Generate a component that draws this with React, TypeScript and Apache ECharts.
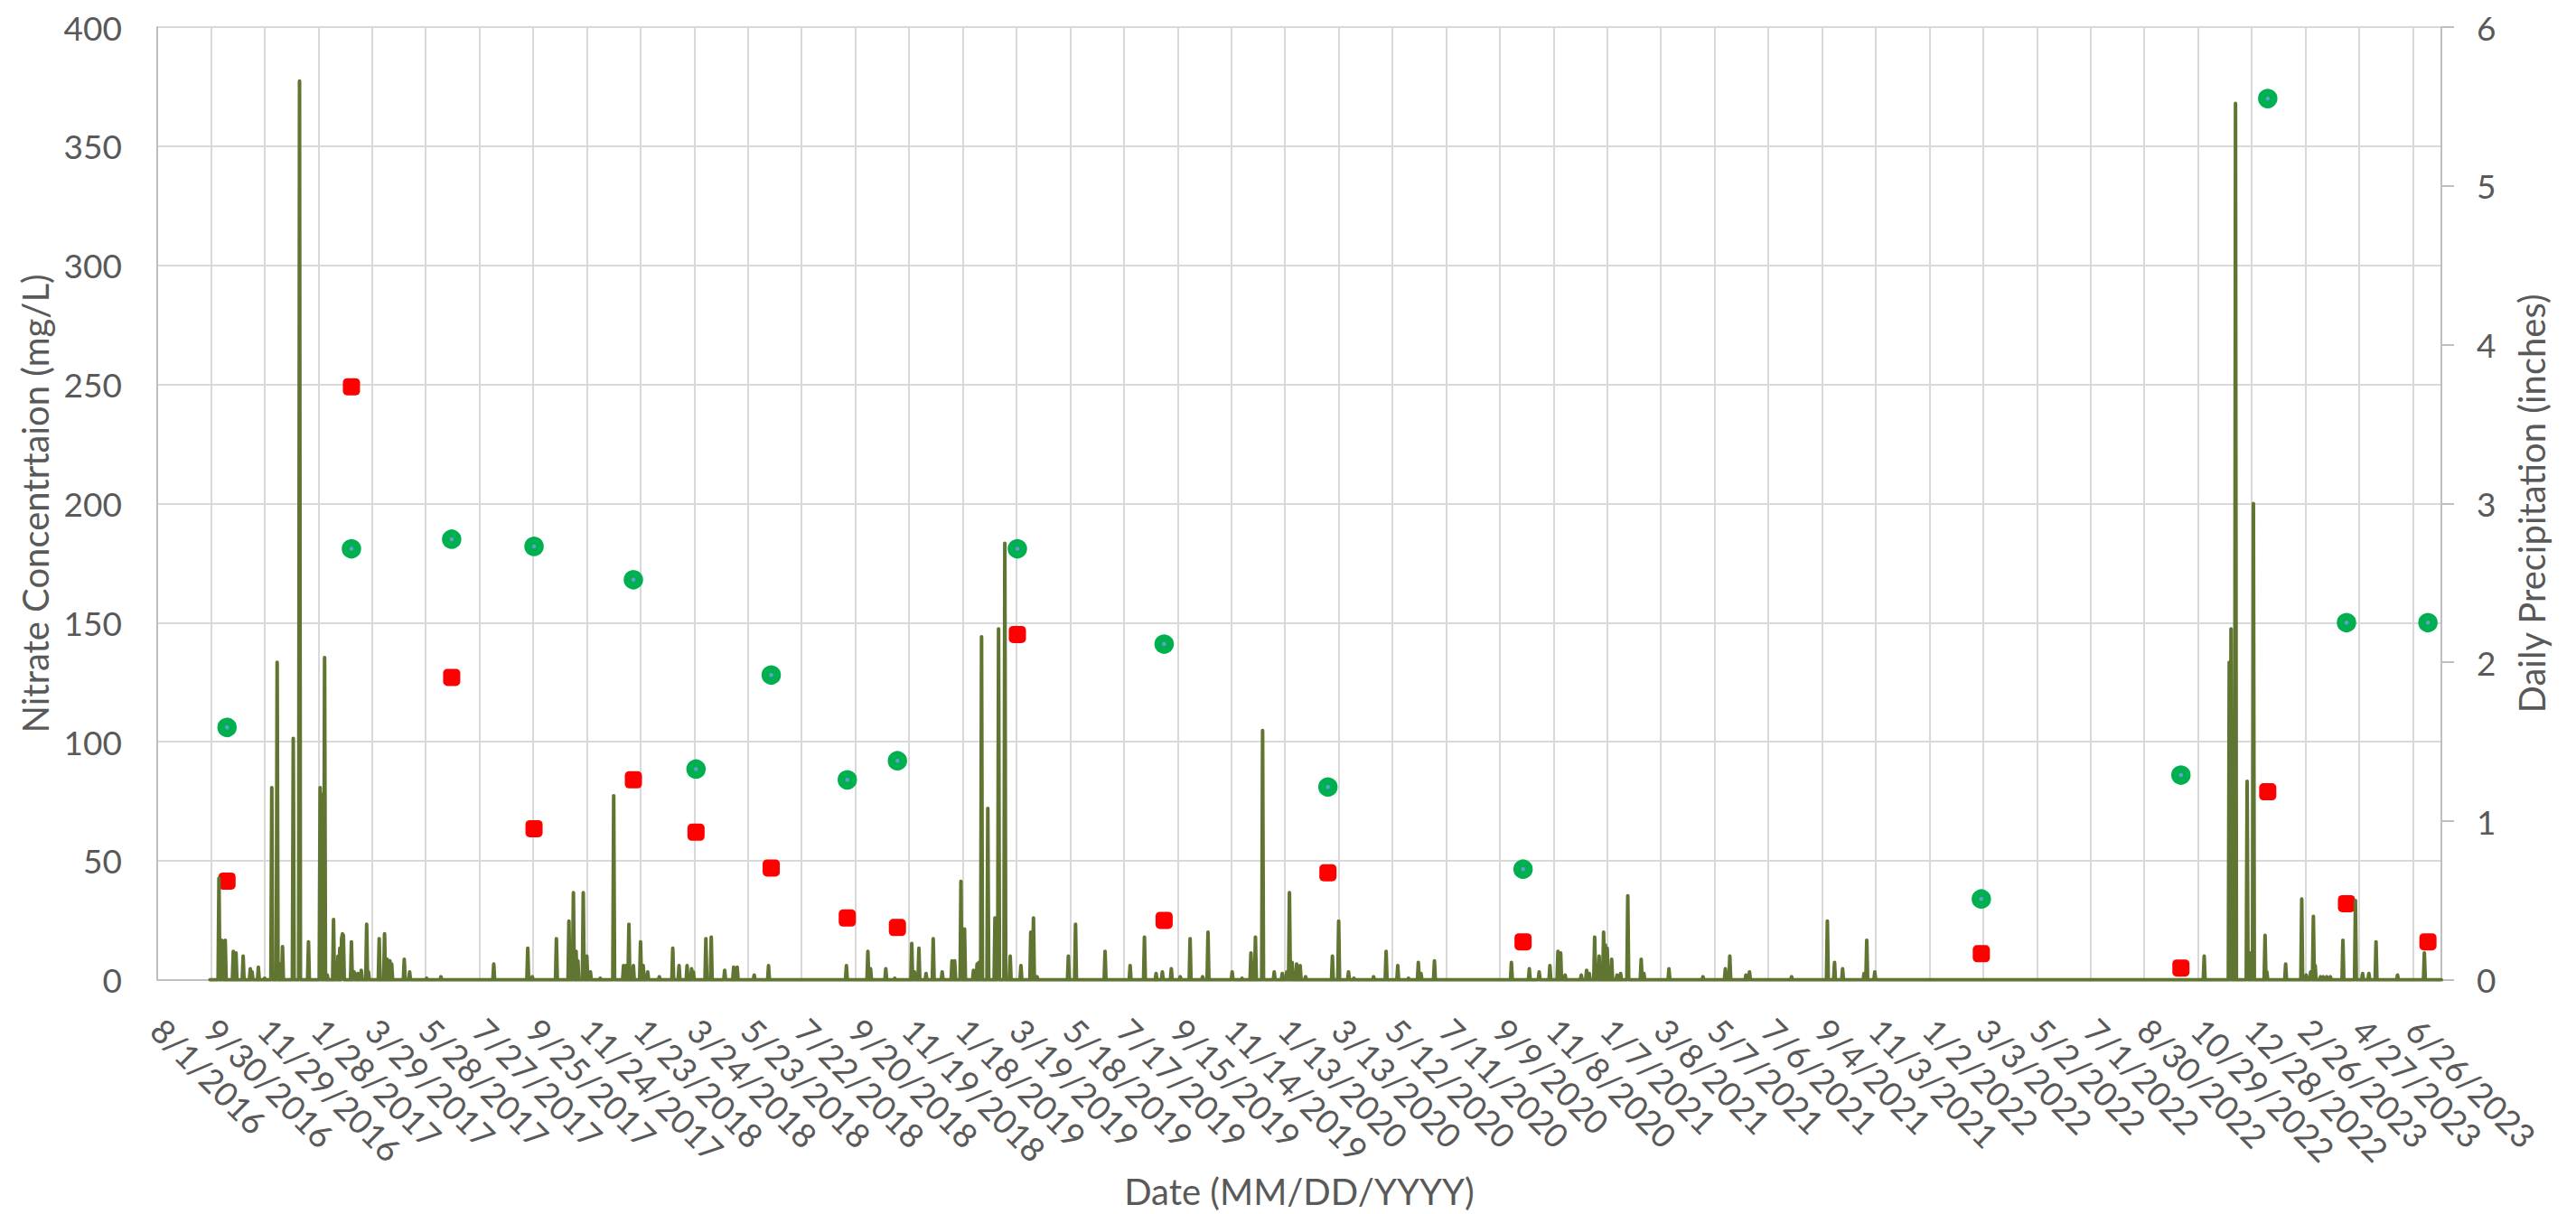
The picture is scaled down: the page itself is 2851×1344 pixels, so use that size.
import React, { useEffect, useRef } from "react";
import * as echarts from "echarts";

// ---------- data ----------
const AXIS_START = "2016-08-01";
const AXIS_END = "2023-07-28";
const PRECIP_START = "2016-09-29";
const PRECIP_END = "2023-07-28";
const X_TICK_DAYS = 60;

const leftAxisRange = [0, 400, 50]; // min, max, interval (mg/L)
const rightAxisRange = [0, 6, 1]; // min, max, interval (inches)

// nitrate sampling dates
const sampleDates = [
  "2016-10-18", "2017-03-06", "2017-06-26", "2017-09-26", "2018-01-15", "2018-03-26",
  "2018-06-18", "2018-09-11", "2018-11-06", "2019-03-20", "2019-08-31", "2020-03-01",
  "2020-10-05", "2022-03-01", "2022-10-10", "2023-01-15", "2023-04-13", "2023-07-13",
];
// green circles (mg/L)
const nitrateGreen = [106, 181, 185, 182, 168, 88.5, 128, 84, 92, 181, 141, 81, 46.5, 34, 86, 370, 150, 150];
// red squares (mg/L)
const nitrateRed = [41.5, 249, 127, 63.5, 84, 62, 47, 26, 22, 145, 25, 45, 16, 11, 5, 79, 32, 16];

// daily precipitation: days with rain (inches); all other days are 0
const precipEvents: [string, number][] = [
  ["2016-10-09", 0.64], ["2016-10-12", 0.25], ["2016-10-13", 0.24], ["2016-10-16", 0.25],
  ["2016-10-25", 0.18], ["2016-10-28", 0.17], ["2016-11-05", 0.15], ["2016-11-13", 0.07],
  ["2016-11-15", 0.05], ["2016-11-22", 0.08], ["2016-11-29", 0.01], ["2016-12-07", 1.21],
  ["2016-12-13", 2.0], ["2016-12-16", 0.1], ["2016-12-19", 0.21], ["2016-12-31", 1.52],
  ["2017-01-07", 5.66], ["2017-01-17", 0.24], ["2017-01-30", 1.21], ["2017-02-01", 1.17],
  ["2017-02-04", 2.03], ["2017-02-07", 0.03], ["2017-02-14", 0.38], ["2017-02-16", 0.04],
  ["2017-02-17", 0.08], ["2017-02-19", 0.15], ["2017-02-21", 0.2], ["2017-02-23", 0.26],
  ["2017-02-24", 0.29], ["2017-02-25", 0.28], ["2017-03-06", 0.24], ["2017-03-09", 0.05],
  ["2017-03-13", 0.04], ["2017-03-17", 0.06], ["2017-03-23", 0.35], ["2017-03-25", 0.05],
  ["2017-04-06", 0.26], ["2017-04-12", 0.29], ["2017-04-15", 0.13], ["2017-04-18", 0.12],
  ["2017-04-20", 0.1], ["2017-05-04", 0.13], ["2017-05-10", 0.05], ["2017-05-29", 0.01],
  ["2017-06-14", 0.02], ["2017-08-12", 0.1], ["2017-09-19", 0.2], ["2017-09-24", 0.02],
  ["2017-10-21", 0.26], ["2017-11-04", 0.37], ["2017-11-09", 0.55], ["2017-11-12", 0.18],
  ["2017-11-14", 0.12], ["2017-11-20", 0.55], ["2017-11-24", 0.15], ["2017-11-28", 0.05],
  ["2017-12-09", 0.01], ["2017-12-24", 1.16],
  ["2018-01-04", 0.09], ["2018-01-07", 0.09], ["2018-01-10", 0.35], ["2018-01-15", 0.09],
  ["2018-01-23", 0.24], ["2018-01-26", 0.09], ["2018-01-31", 0.05], ["2018-02-13", 0.02],
  ["2018-02-28", 0.2], ["2018-03-07", 0.09], ["2018-03-16", 0.09], ["2018-03-21", 0.07],
  ["2018-03-23", 0.05], ["2018-04-06", 0.26], ["2018-04-12", 0.27], ["2018-04-27", 0.06],
  ["2018-05-07", 0.08], ["2018-05-11", 0.08], ["2018-05-30", 0.03], ["2018-06-15", 0.09],
  ["2018-09-10", 0.09], ["2018-10-04", 0.18], ["2018-10-07", 0.07], ["2018-10-24", 0.07],
  ["2018-11-03", 0.01], ["2018-11-22", 0.23], ["2018-11-25", 0.05], ["2018-11-30", 0.2],
  ["2018-12-08", 0.04], ["2018-12-16", 0.26], ["2018-12-26", 0.05],
  ["2019-01-06", 0.12], ["2019-01-09", 0.12], ["2019-01-16", 0.62], ["2019-01-20", 0.32],
  ["2019-01-30", 0.06], ["2019-02-03", 0.1], ["2019-02-05", 0.11], ["2019-02-08", 2.16],
  ["2019-02-15", 1.08], ["2019-02-23", 0.39], ["2019-02-27", 2.21], ["2019-03-06", 2.75],
  ["2019-03-12", 0.15], ["2019-03-24", 0.09], ["2019-04-04", 0.3], ["2019-04-07", 0.39],
  ["2019-04-11", 0.02], ["2019-05-16", 0.15], ["2019-05-24", 0.35], ["2019-06-26", 0.18],
  ["2019-07-24", 0.09], ["2019-08-09", 0.27], ["2019-08-22", 0.04], ["2019-08-29", 0.05],
  ["2019-09-08", 0.07], ["2019-09-18", 0.02], ["2019-09-29", 0.26], ["2019-10-13", 0.02],
  ["2019-10-19", 0.3], ["2019-11-15", 0.05], ["2019-11-26", 0.01], ["2019-12-06", 0.17],
  ["2019-12-11", 0.27], ["2019-12-19", 1.57],
  ["2020-01-01", 0.05], ["2020-01-10", 0.04], ["2020-01-15", 0.05], ["2020-01-18", 0.55],
  ["2020-01-21", 0.11], ["2020-01-26", 0.1], ["2020-01-30", 0.09], ["2020-02-05", 0.02],
  ["2020-03-06", 0.15], ["2020-03-13", 0.37], ["2020-03-24", 0.05], ["2020-03-30", 0.01],
  ["2020-04-21", 0.02], ["2020-05-05", 0.18], ["2020-05-18", 0.09], ["2020-05-30", 0.01],
  ["2020-06-10", 0.11], ["2020-06-13", 0.04], ["2020-06-28", 0.12], ["2020-09-22", 0.11],
  ["2020-10-12", 0.07], ["2020-10-23", 0.05], ["2020-11-04", 0.09], ["2020-11-13", 0.18],
  ["2020-11-16", 0.17], ["2020-11-21", 0.03], ["2020-12-09", 0.03], ["2020-12-15", 0.06],
  ["2020-12-18", 0.04], ["2020-12-24", 0.27], ["2020-12-27", 0.05], ["2020-12-29", 0.15],
  ["2021-01-01", 0.08], ["2021-01-03", 0.3], ["2021-01-05", 0.22], ["2021-01-07", 0.2],
  ["2021-01-12", 0.13], ["2021-01-18", 0.03], ["2021-01-22", 0.04], ["2021-01-30", 0.53],
  ["2021-02-14", 0.13], ["2021-02-17", 0.04], ["2021-03-17", 0.07], ["2021-04-24", 0.02],
  ["2021-05-19", 0.07], ["2021-05-24", 0.15], ["2021-06-11", 0.03], ["2021-06-15", 0.05],
  ["2021-08-01", 0.02], ["2021-09-10", 0.37], ["2021-09-18", 0.11], ["2021-09-27", 0.07],
  ["2021-10-21", 0.04], ["2021-10-24", 0.25], ["2021-11-02", 0.05],
  ["2022-11-05", 0.15], ["2022-12-03", 2.0], ["2022-12-05", 2.21], ["2022-12-10", 5.52],
  ["2022-12-23", 1.25], ["2022-12-26", 0.17], ["2022-12-30", 3.0],
  ["2023-01-12", 0.28], ["2023-01-14", 0.05], ["2023-02-04", 0.1], ["2023-02-22", 0.51],
  ["2023-02-27", 0.03], ["2023-03-04", 0.05], ["2023-03-07", 0.4], ["2023-03-09", 0.09],
  ["2023-03-15", 0.02], ["2023-03-18", 0.02], ["2023-03-22", 0.02], ["2023-03-26", 0.02],
  ["2023-04-09", 0.25], ["2023-04-23", 0.5], ["2023-05-01", 0.04], ["2023-05-08", 0.04],
  ["2023-05-16", 0.24], ["2023-06-09", 0.03], ["2023-07-09", 0.17],
];

// ---------- helpers ----------
const MS_DAY = 86400000;
function parseUTC(iso: string): number {
  const [y, m, d] = iso.split("-").map(Number);
  return Date.UTC(y, m - 1, d);
}
const BASE = parseUTC(AXIS_START);
function dayIndex(iso: string): number {
  return Math.round((parseUTC(iso) - BASE) / MS_DAY);
}
function dayLabel(v: number): string {
  const dt = new Date(BASE + v * MS_DAY);
  return `${dt.getUTCMonth() + 1}/${dt.getUTCDate()}/${dt.getUTCFullYear()}`;
}

const FONT = "Lato, 'Liberation Sans', sans-serif";
const TEXT = "#595959";
const GRID = "#d9d9d9";
const AXIS = "#bfbfbf";

export default function App() {
  const ref = useRef<HTMLDivElement>(null);

  useEffect(() => {
    if (!ref.current) return;
    const chart = echarts.init(ref.current, undefined, { renderer: "svg" });

    const rain = new Map<number, number>();
    precipEvents.forEach(([d, v]) => rain.set(dayIndex(d), v));
    const precipData: [number, number][] = [];
    for (let d = dayIndex(PRECIP_START); d <= dayIndex(PRECIP_END); d++) {
      precipData.push([d, rain.get(d) ?? 0]);
    }
    const greenData = sampleDates.map((d, i) => [dayIndex(d), nitrateGreen[i]]);
    const redData = sampleDates.map((d, i) => [dayIndex(d), nitrateRed[i]]);

    chart.setOption({
      animation: false,
      backgroundColor: "#ffffff",
      textStyle: { fontFamily: FONT },
      grid: { left: 174, right: 149, top: 30, bottom: 254, containLabel: false },
      xAxis: {
        type: "value",
        min: 0,
        max: dayIndex(AXIS_END),
        interval: X_TICK_DAYS,
        name: "Date (MM/DD/YYYY)",
        nameLocation: "middle",
        nameGap: 200,
        nameTextStyle: { fontSize: 40, color: TEXT, fontFamily: FONT },
        axisLine: { show: true, onZero: false, lineStyle: { color: AXIS, width: 2 } },
        axisTick: { show: false },
        axisLabel: {
          rotate: -45,
          margin: 49,
          fontSize: 37,
          color: TEXT,
          fontFamily: FONT,
          formatter: (v: number) => (v % X_TICK_DAYS === 0 ? dayLabel(v) : ""),
        },
        splitLine: { show: true, lineStyle: { color: GRID, width: 2 } },
      },
      yAxis: [
        {
          type: "value",
          position: "left",
          min: leftAxisRange[0],
          max: leftAxisRange[1],
          interval: leftAxisRange[2],
          name: "Nitrate Concentrtaion (mg/L)",
          nameLocation: "middle",
          nameRotate: 90,
          nameGap: 115,
          nameTextStyle: { fontSize: 40, color: TEXT, fontFamily: FONT },
          axisLine: { show: true, lineStyle: { color: AXIS, width: 2 } },
          axisTick: { show: false },
          axisLabel: { margin: 39, fontSize: 37, color: TEXT, fontFamily: FONT },
          splitLine: { show: true, lineStyle: { color: GRID, width: 2 } },
        },
        {
          type: "value",
          position: "right",
          min: rightAxisRange[0],
          max: rightAxisRange[1],
          interval: rightAxisRange[2],
          name: "Daily Precipitation (inches)",
          nameLocation: "middle",
          nameRotate: 90,
          nameGap: 80,
          nameTextStyle: { fontSize: 40, color: TEXT, fontFamily: FONT },
          axisLine: { show: true, lineStyle: { color: AXIS, width: 2 } },
          axisTick: { show: true, length: 14, lineStyle: { color: AXIS, width: 2 } },
          axisLabel: { margin: 39, fontSize: 37, color: TEXT, fontFamily: FONT },
          splitLine: { show: false },
        },
      ],
      series: [
        {
          name: "Nitrate (green)",
          type: "scatter",
          yAxisIndex: 0,
          data: greenData,
          symbol: "circle",
          symbolSize: 13,
          itemStyle: { color: "#5BA3D0", borderColor: "#00B050", borderWidth: 8.5, opacity: 1 },
          z: 3,
        },
        {
          name: "Nitrate (red)",
          type: "scatter",
          yAxisIndex: 0,
          data: redData,
          symbol: "roundRect",
          symbolSize: 19,
          itemStyle: { color: "#FF0000", opacity: 1 },
          z: 3,
        },
        {
          name: "Daily Precipitation",
          type: "line",
          yAxisIndex: 1,
          data: precipData,
          showSymbol: false,
          symbol: "none",
          lineStyle: { color: "#617532", width: 4, join: "round", cap: "round" },
          z: 4,
        },
      ],
    });

    return () => chart.dispose();
  }, []);

  return (
    <div
      ref={ref}
      style={{ position: "fixed", left: 0, top: 0, width: 2851, height: 1344, background: "#fff" }}
    />
  );
}
